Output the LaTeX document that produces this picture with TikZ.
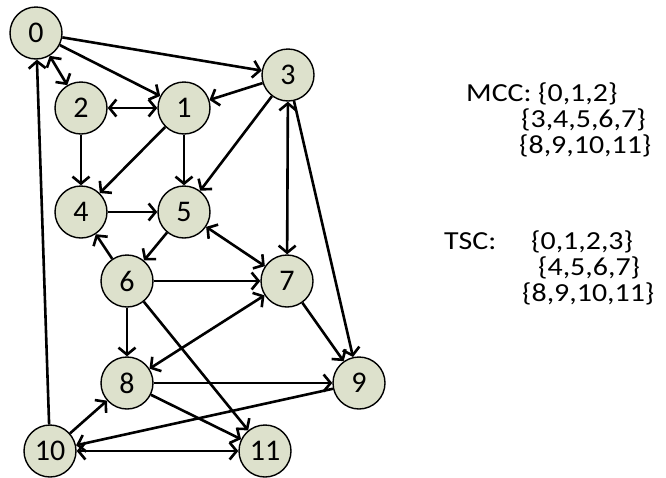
\documentclass[tikz,border=0pt]{standalone}
\usepackage{fontspec}
\setmainfont{Carlito}
\usetikzlibrary{arrows.meta}
\definecolor{nodefill}{RGB}{221,225,204}
\newcommand\hscl[1]{\scalebox{1.15}[1]{#1}}
\tikzset{
  barb/.tip={Straight Barb[length=7pt,width=17pt,line width=2.6pt]},
  vtx/.style={circle,draw=black,line width=1.4pt,fill=nodefill,minimum size=52pt,inner sep=0pt,font=\fontsize{30}{32}\selectfont},
  edge/.style={line width=2.6pt,-barb},
  bi/.style={line width=2.6pt,barb-barb},
  lbl/.style={anchor=base west,inner sep=0pt,font=\fontsize{26}{28}\selectfont}
}
\begin{document}
\begin{tikzpicture}[x=1pt,y=-1pt]
\useasboundingbox (0,0) rectangle (666,477);
\node[vtx] (n0) at (36,33) {0};
\node[vtx] (n1) at (184,108) {1};
\node[vtx] (n2) at (81,108) {2};
\node[vtx] (n3) at (288,75) {3};
\node[vtx] (n4) at (81,212) {4};
\node[vtx] (n5) at (184,212) {5};
\node[vtx] (n6) at (127,281) {6};
\node[vtx] (n7) at (287,281) {7};
\node[vtx] (n8) at (127,383) {8};
\node[vtx] (n9) at (359,383) {9};
\node[vtx] (n10) at (50,451) {10};
\node[vtx] (n11) at (265,451) {11};
\draw[edge] (n0) -- (n1);
\draw[edge] (n0) -- (n3);
\draw[bi] (n0) -- (n2);
\draw[bi] (n2) -- (n1);
\draw[edge] (n3) -- (n1);
\draw[edge] (n2) -- (n4);
\draw[edge] (n1) -- (n4);
\draw[edge] (n1) -- (n5);
\draw[edge] (n3) -- (n5);
\draw[edge] (n4) -- (n5);
\draw[edge] (n6) -- (n4);
\draw[edge] (n5) -- (n6);
\draw[bi] (n5) -- (n7);
\draw[bi] (n3) -- (n7);
\draw[edge] (n3) -- (n9);
\draw[edge] (n6) -- (n7);
\draw[bi] (n7) -- (n8);
\draw[edge] (n7) -- (n9);
\draw[edge] (n6) -- (n8);
\draw[edge] (n6) -- (n11);
\draw[edge] (n8) -- (n9);
\draw[edge] (n8) -- (n11);
\draw[edge] (n10) -- (n8);
\draw[edge] (n9) -- (n10);
\draw[bi] (n10) -- (n11);
\draw[edge] (n10) -- (n0);
\node[lbl] (mcc) at (466,101) {\hscl{MCC:}};
\node[lbl] (m1) at (538,101) {\hscl{\{0,1,2\}}};
\node[lbl] (m2) at (521,127) {\hscl{\{3,4,5,6,7\}}};
\node[lbl] (m3) at (519,153) {\hscl{\{8,9,10,11\}}};
\node[lbl] (tsc) at (444,249) {\hscl{TSC:}};
\node[lbl] (t1) at (531,249) {\hscl{\{0,1,2,3\}}};
\node[lbl] (t2) at (538,275) {\hscl{\{4,5,6,7\}}};
\node[lbl] (t3) at (522,301) {\hscl{\{8,9,10,11\}}};
\end{tikzpicture}
\end{document}
